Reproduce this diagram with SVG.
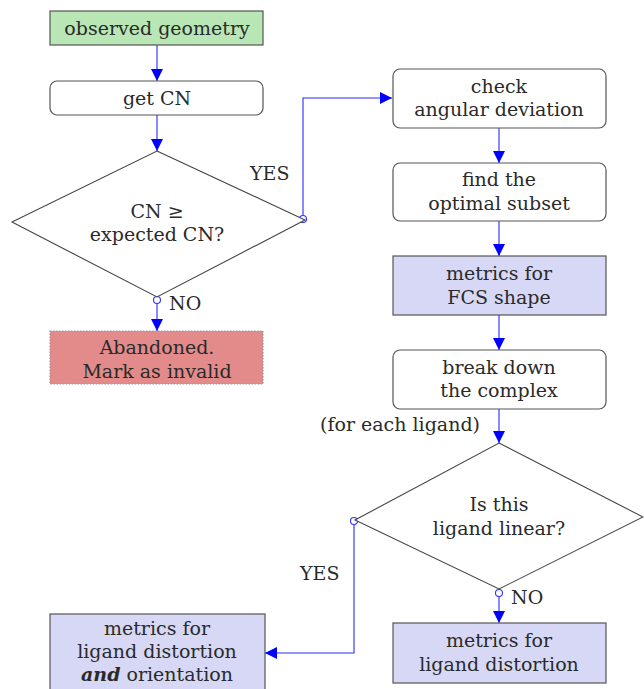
<svg xmlns="http://www.w3.org/2000/svg" width="644" height="689" viewBox="0 0 644 689" font-family="'DejaVu Serif', serif">
<style>
text{font-family:'DejaVu Serif',serif;font-size:19px;fill:#2a2a2a;text-anchor:middle}
.box{stroke:#555;stroke-width:1.2}
.plain{fill:#fff}
.green{fill:#b8e6b4}
.red{fill:#e38b8b;stroke:#999;stroke-dasharray:1.5 1.5}
.lav{fill:#d6d8f6}
.dia{fill:#fff;stroke:#444;stroke-width:1.1}
.con{fill:none;stroke:#2a2aff;stroke-width:1.1}
.dot{fill:#fff;stroke:#3333ff;stroke-width:1.1}
.lbl{text-anchor:start}
</style>
<defs>
<marker id="ah" viewBox="0 0 10 10" refX="10" refY="5" markerWidth="12" markerHeight="12" markerUnits="userSpaceOnUse" orient="auto">
<path d="M0,0 L10,5 L0,10 z" fill="#0000ff"/>
</marker>
</defs>
<g id="connectors">
<path class="con" d="M157,45 V81" marker-end="url(#ah)"/>
<path class="con" d="M157,115 V151" marker-end="url(#ah)"/>
<path class="con" d="M303,219 V98 H392" marker-end="url(#ah)"/>
<path class="con" d="M157,303 V331" marker-end="url(#ah)"/>
<path class="con" d="M499,128 V163" marker-end="url(#ah)"/>
<path class="con" d="M499,221 V256" marker-end="url(#ah)"/>
<path class="con" d="M499,315 V350" marker-end="url(#ah)"/>
<path class="con" d="M499,409 V443" marker-end="url(#ah)"/>
<path class="con" d="M499,596 V623" marker-end="url(#ah)"/>
<path class="con" d="M354,524 V653 H265" marker-end="url(#ah)"/>
<circle class="dot" cx="303" cy="219" r="3.5"/>
<circle class="dot" cx="157" cy="300" r="3.5"/>
<circle class="dot" cx="499" cy="593" r="3.5"/>
<circle class="dot" cx="354" cy="521" r="3.5"/>
<text class="lbl" x="250" y="180">YES</text>
<text class="lbl" x="169" y="310">NO</text>
<text x="400" y="431">(for each ligand)</text>
<text class="lbl" x="511" y="604">NO</text>
<text class="lbl" x="300" y="580">YES</text>
</g>
<g id="observed">
<rect class="box green" x="50" y="11" width="213" height="34"/>
<text x="157" y="35">observed geometry</text>
</g>
<g id="getcn">
<rect class="box plain" x="50" y="81" width="213" height="34" rx="7"/>
<text x="157" y="105">get CN</text>
</g>
<g id="cncheck">
<polygon class="dia" points="157,151 305,220 157,297 12,222"/>
<text x="157" y="218">CN ≥</text>
<text x="157" y="241">expected CN?</text>
</g>
<g id="abandoned">
<rect class="box red" x="50" y="331" width="213" height="53"/>
<text x="157" y="354">Abandoned.</text>
<text x="157" y="378">Mark as invalid</text>
</g>
<g id="angular">
<rect class="box plain" x="393" y="69" width="213" height="59" rx="7"/>
<text x="499" y="93">check</text>
<text x="499" y="116">angular deviation</text>
</g>
<g id="subset">
<rect class="box plain" x="393" y="163" width="213" height="58" rx="7"/>
<text x="499" y="186">find the</text>
<text x="499" y="210">optimal subset</text>
</g>
<g id="fcs">
<rect class="box lav" x="393" y="256" width="213" height="59"/>
<text x="499" y="280">metrics for</text>
<text x="499" y="304">FCS shape</text>
</g>
<g id="breakdown">
<rect class="box plain" x="393" y="350" width="213" height="59" rx="7"/>
<text x="499" y="374">break down</text>
<text x="499" y="397">the complex</text>
</g>
<g id="linear">
<polygon class="dia" points="499,443 643,517 499,589 355,520"/>
<text x="499" y="511">Is this</text>
<text x="499" y="535">ligand linear?</text>
</g>
<g id="ligdist">
<rect class="box lav" x="393" y="623" width="213" height="60"/>
<text x="499" y="647">metrics for</text>
<text x="499" y="671">ligand distortion</text>
</g>
<g id="ligdistor">
<rect class="box lav" x="50" y="614" width="215" height="80"/>
<text x="157" y="635">metrics for</text>
<text x="157" y="658">ligand distortion</text>
<text x="157" y="681"><tspan font-weight="bold" font-style="italic">and</tspan> orientation</text>
</g>
</svg>
